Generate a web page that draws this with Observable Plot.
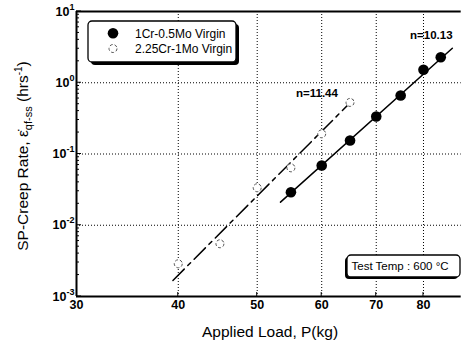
<!DOCTYPE html>
<html><head><meta charset="utf-8">
<script src="https://cdn.jsdelivr.net/npm/d3@7"></script>
<script src="https://cdn.jsdelivr.net/npm/@observablehq/plot@0.6"></script>
<style>
body{margin:0;background:#fff}
svg{font-family:"Liberation Sans",Arial,Helvetica,sans-serif}
</style>
</head><body><div id="chart"></div>
<script>
// --- data ---
const loadCrMo1 = [55, 60, 65, 70, 75, 80, 84];
const rateCrMo1 = [0.0291, 0.069, 0.155, 0.336, 0.662, 1.52, 2.28];
const loadCrMo2 = [40, 45, 50, 55, 60, 65];
const rateCrMo2 = [0.00288, 0.0055, 0.0336, 0.064, 0.192, 0.53];
const fitLoad1 = [53.4, 86.8];
const fitRate1 = [0.0211, 3.05];
const fitLoad2 = [39.4, 65.5];
const fitRate2 = [0.00168, 0.57];
const seriesNames = ["1Cr-0.5Mo Virgin", "2.25Cr-1Mo Virgin"];
const slopeLabels = ["n=10.13", "n=11.44"];
const xTicks = [30, 40, 50, 60, 70, 80];
const yTicks = [1e-3, 1e-2, 1e-1, 1, 10];
const gridX = [40, 50, 60, 70, 80];
const gridY = [1e-2, 1e-1, 1];
const xTitle = "Applied Load, P(kg)";
const noteText = "Test Temp : 600 °C";

const s1 = loadCrMo1.map((P, i) => ({P, rate: rateCrMo1[i]}));
const s2 = loadCrMo2.map((P, i) => ({P, rate: rateCrMo2[i]}));
const f1 = fitLoad1.map((P, i) => ({P, rate: fitRate1[i]}));
const f2 = fitLoad2.map((P, i) => ({P, rate: fitRate2[i]}));
const minorY = [];
for (let d = -3; d < 1; d++) for (let k = 2; k <= 9; k++) minorY.push(k * Math.pow(10, d));

const dotted = {stroke: "black", strokeWidth: 1, strokeDasharray: "1,2"};

const chart = Plot.plot({
  width: 462, height: 346,
  marginLeft: 76, marginRight: 1.3, marginTop: 11, marginBottom: 50,
  style: {background: "white", fontFamily: "Liberation Sans, Arial, sans-serif", color: "black"},
  x: {type: "log", domain: [30, 89], label: null},
  y: {type: "log", domain: [1e-3, 10], label: null},
  marks: [
    Plot.ruleX(gridX, dotted),
    Plot.ruleY(gridY, dotted),
    Plot.line(f1, {x: "P", y: "rate", stroke: "black", strokeWidth: 1.5}),
    Plot.line(f2, {x: "P", y: "rate", stroke: "black", strokeWidth: 1.5, strokeDasharray: "16,5,4,5"}),
    Plot.dot(s2, {x: "P", y: "rate", r: 4, stroke: "#555", strokeWidth: 1, strokeDasharray: "3,2", fill: "white"}),
    Plot.dot(s1, {x: "P", y: "rate", r: 5.3, fill: "black"}),
    Plot.text([slopeLabels[0]], {x: 81.8, y: 4.6, text: d => d, fontSize: 11.5, fontWeight: "bold", fill: "black"}),
    Plot.text([slopeLabels[1]], {x: 59.2, y: 0.70, text: d => d, fontSize: 11.5, fontWeight: "bold", fill: "black"}),
    Plot.ruleY([10], {stroke: "black", strokeWidth: 2}),
    Plot.ruleY([1e-3], {stroke: "black", strokeWidth: 2}),
    Plot.ruleX([30], {stroke: "black", strokeWidth: 2}),
    Plot.axisX(xTicks, {tickSize: 0, tickPadding: 4, tickFormat: d => String(d), fontSize: 12.5, fontWeight: "bold", label: null}),
    Plot.axisY(yTicks, {tickSize: 0, tickPadding: 2, tickFormat: d => String(Math.round(Math.log10(d))), fontSize: 12.5, fontWeight: "bold", label: null})
  ]
});
document.getElementById("chart").appendChild(chart);

const svg = d3.select(chart);
const xs = chart.scale("x"), ys = chart.scale("y");
const X = v => xs.apply(v), Y = v => ys.apply(v);
const xL = X(30), yB = Y(1e-3);

// superscript exponents on y tick labels
svg.selectAll('g[aria-label="y-axis tick label"] text').each(function () {
  const e = this.textContent;
  const t = d3.select(this);
  t.text(null);
  t.append("tspan").text("10");
  t.append("tspan").attr("font-size", 9).attr("dy", -6).text(e.replace("−", "-"));
});

// inward ticks
const tg = svg.append("g").attr("stroke", "black").attr("stroke-width", 1);
yTicks.forEach(v => tg.append("line").attr("x1", xL).attr("x2", xL + 5).attr("y1", Y(v)).attr("y2", Y(v)));
minorY.forEach(v => tg.append("line").attr("x1", xL).attr("x2", xL + 3).attr("y1", Y(v)).attr("y2", Y(v)));
xTicks.slice(1).forEach(v => tg.append("line").attr("x1", X(v)).attr("x2", X(v)).attr("y1", yB).attr("y2", yB - 4));

// legend box
const lg = svg.append("g").attr("text-anchor", "start");
lg.append("rect").attr("x", 91).attr("y", 24).attr("width", 148).attr("height", 41).attr("rx", 4).attr("fill", "black");
lg.append("rect").attr("x", 88).attr("y", 21).attr("width", 148).attr("height", 41).attr("rx", 4)
  .attr("fill", "white").attr("stroke", "black").attr("stroke-width", 1.3);
lg.append("circle").attr("cx", 113).attr("cy", 33.3).attr("r", 5.3).attr("fill", "black");
lg.append("circle").attr("cx", 113).attr("cy", 48.5).attr("r", 4).attr("fill", "white")
  .attr("stroke", "#555").attr("stroke-dasharray", "3,2");
lg.append("text").attr("x", 135).attr("y", 37.5).attr("font-size", 12).attr("text-anchor", "start").text(seriesNames[0]);
lg.append("text").attr("x", 135).attr("y", 52.7).attr("font-size", 12).attr("text-anchor", "start").text(seriesNames[1]);

// test temp box
const nb = svg.append("g");
nb.append("rect").attr("x", 345).attr("y", 257).attr("width", 113).attr("height", 22).attr("rx", 4).attr("fill", "black");
nb.append("rect").attr("x", 347).attr("y", 255).attr("width", 113).attr("height", 22).attr("rx", 4)
  .attr("fill", "white").attr("stroke", "black").attr("stroke-width", 1.3);
nb.append("text").attr("x", 351.5).attr("y", 270).attr("font-size", 11.5).attr("text-anchor", "start").text(noteText);

// axis titles
svg.append("text").attr("x", 270).attr("y", 337).attr("text-anchor", "middle").attr("font-size", 15.5).text(xTitle);
const yt = svg.append("text").attr("transform", "translate(28,156) rotate(-90)").attr("text-anchor", "middle").attr("font-size", 15.5);
yt.append("tspan").text("SP-Creep Rate, \u03b5\u0307");
yt.append("tspan").attr("font-size", 11).attr("dy", 4).text("qf-ss");
yt.append("tspan").attr("dy", -4).text(" (hrs");
yt.append("tspan").attr("font-size", 10).attr("dy", -6).text("-1");
yt.append("tspan").attr("dy", 6).text(")");
</script>
</body></html>
